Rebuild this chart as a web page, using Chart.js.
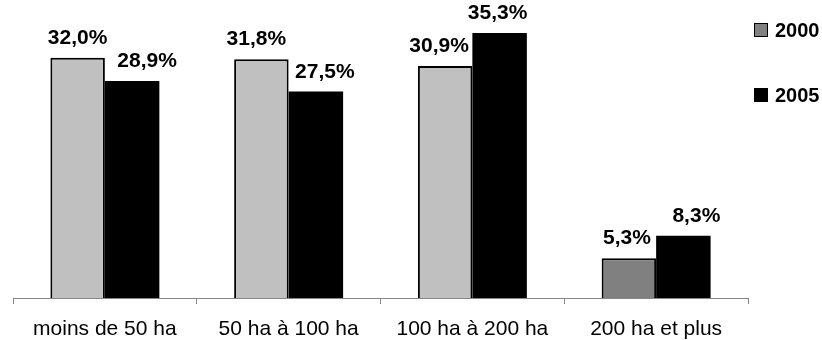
<!DOCTYPE html>
<html>
<head>
<meta charset="utf-8">
<script src="https://cdn.jsdelivr.net/npm/chart.js@4"></script>
<style>
  html, body { margin: 0; padding: 0; background: #fff; }
  #wrap { width: 822px; height: 340px; }
</style>
</head>
<body>
<div id="wrap"><canvas id="chart" width="822" height="340"></canvas></div>
<script>
// Chart data
const categories = ["moins de 50 ha", "50 ha à 100 ha", "100 ha à 200 ha", "200 ha et plus"];
const seriesNames = ["2000", "2005"];
const values2000 = [32.0, 31.8, 30.9, 5.3];
const values2005 = [28.9, 27.5, 35.3, 8.3];

// The last 2000 bar is a darker grey in the original, same as the legend swatch
const colors2000 = ["#c0c0c0", "#c0c0c0", "#c0c0c0", "#808080"];
const legendColors = ["#808080", "#000000"];
const FONT = "'Liberation Sans', Arial, sans-serif";

// Small sideways nudges of the value labels, like the original (style only)
const LABEL_NUDGE_X = [[0, -5, -6, -2], [15, 9, -2, 13]];

// Formats a value the french way, with a comma
function formatPercent(v) {
  return v.toFixed(1).replace(".", ",") + "%";
}

// Writes the value above every bar
const valueLabels = {
  id: "valueLabels",
  afterDatasetsDraw(chart) {
    const ctx = chart.ctx;
    ctx.save();
    ctx.font = "bold 21px " + FONT;
    ctx.fillStyle = "#000";
    ctx.textAlign = "center";
    ctx.textBaseline = "alphabetic";
    chart.data.datasets.forEach((ds, di) => {
      chart.getDatasetMeta(di).data.forEach((bar, i) => {
        ctx.fillText(formatPercent(ds.data[i]), bar.x + LABEL_NUDGE_X[di][i], bar.y - 14);
      });
    });
    ctx.restore();
  }
};

// Legend on the right, drawn by hand to get the wide spacing of the original
const sideLegend = {
  id: "sideLegend",
  afterDraw(chart) {
    const ctx = chart.ctx;
    const left = chart.chartArea.right + 6;
    const rowsY = [30, 95];
    ctx.save();
    ctx.font = "bold 20px " + FONT;
    ctx.textBaseline = "middle";
    ctx.textAlign = "left";
    seriesNames.forEach((name, i) => {
      const y = rowsY[i];
      ctx.fillStyle = legendColors[i];
      ctx.fillRect(left, y - 7, 14, 14);
      ctx.strokeStyle = "#000";
      ctx.lineWidth = 1;
      ctx.strokeRect(left + 0.5, y - 6.5, 13, 13);
      ctx.fillStyle = "#000";
      ctx.fillText(name, left + 21, y + 1);
    });
    ctx.restore();
  }
};

new Chart(document.getElementById("chart"), {
  type: "bar",
  data: {
    labels: categories,
    datasets: [
      {
        label: seriesNames[0],
        data: values2000,
        backgroundColor: colors2000,
        borderColor: "#000",
        borderWidth: 2,
        borderSkipped: "bottom"
      },
      {
        label: seriesNames[1],
        data: values2005,
        backgroundColor: "#000",
        borderColor: "#000",
        borderWidth: 0
      }
    ]
  },
  options: {
    responsive: false,
    animation: false,
    layout: { padding: { left: 13, right: 74, top: 0, bottom: 0 } },
    datasets: {
      bar: { categoryPercentage: 0.593, barPercentage: 1.0 }
    },
    scales: {
      x: {
        // Force the axis band height so the axis line sits where the original has it
        afterFit(scale) {
          scale.height = 42;
        },
        grid: {
          display: true,
          offset: true,
          drawOnChartArea: false,
          tickLength: 6,
          color: "#868686"
        },
        border: { display: true, color: "#868686", width: 1 },
        ticks: {
          color: "#000",
          padding: 13,
          font: { family: FONT, size: 21 }
        }
      },
      y: {
        display: false,
        min: 0,
        max: 39.7
      }
    },
    plugins: {
      tooltip: { enabled: false },
      legend: { display: false }
    }
  },
  plugins: [valueLabels, sideLegend]
});
</script>
</body>
</html>
